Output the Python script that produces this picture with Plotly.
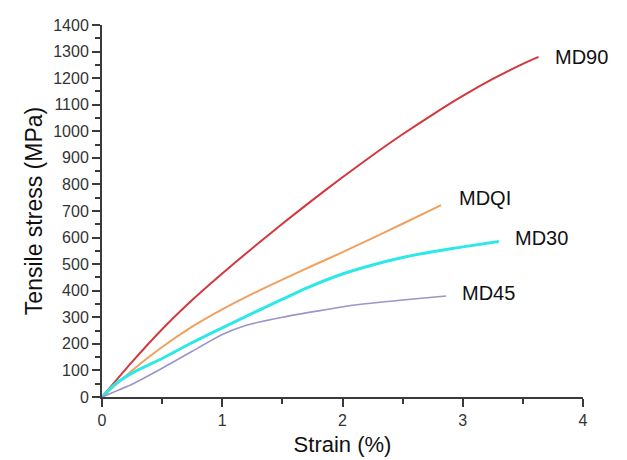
import plotly.graph_objects as go

# MD90
md90_x = [0, 0.25, 0.5, 0.75, 1.0, 1.25, 1.5, 1.75, 2.0, 2.25, 2.5, 2.75, 3.0, 3.25, 3.5, 3.63]
md90_y = [0, 132, 255, 365, 465, 560, 652, 741, 827, 910, 989, 1063, 1133, 1197, 1254, 1280]
# MDQI
mdqi_x = [0, 0.25, 0.5, 0.75, 1.0, 1.25, 1.5, 1.75, 2.0, 2.25, 2.5, 2.82]
mdqi_y = [0, 100, 188, 265, 330, 388, 442, 494, 545, 598, 652, 722]
# MD30
md30_x = [0, 0.1, 0.25, 0.5, 0.75, 1.0, 1.25, 1.5, 1.7, 2.0, 2.25, 2.5, 2.75, 3.0, 3.3]
md30_y = [0, 45, 90, 145, 205, 260, 315, 368, 410, 463, 497, 525, 547, 565, 585]
# MD45
md45_x = [0, 0.25, 0.5, 0.75, 1.0, 1.2, 1.5, 1.8, 2.1, 2.5, 2.86]
md45_y = [0, 48, 108, 172, 235, 270, 300, 324, 346, 365, 380]

x_ticks = [0, 1, 2, 3, 4]
y_ticks = list(range(0, 1401, 100))

series = [
    ("MD90", md90_x, md90_y, "#d2383e", 2),
    ("MDQI", mdqi_x, mdqi_y, "#f0a060", 2),
    ("MD30", md30_x, md30_y, "#2ee8e8", 3),
    ("MD45", md45_x, md45_y, "#9a96c8", 1.6),
]

FONT = "Liberation Sans, Arial"

fig = go.Figure()
for name, xs, ys, col, w in series:
    fig.add_trace(go.Scatter(x=xs, y=ys, mode="lines", name=name,
                             line=dict(color=col, width=w, shape="spline", smoothing=0.5),
                             showlegend=False))

labels = [("MD90", 3.63, 1280, 0.12, 0), ("MDQI", 2.82, 722, 0.13, 28),
          ("MD30", 3.3, 585, 0.12, 15), ("MD45", 2.86, 380, 0.12, 10)]
for txt, lx, ly, dx, dy in labels:
    fig.add_annotation(x=lx + dx, y=ly + dy, text=txt, showarrow=False,
                       xanchor="left", yanchor="middle",
                       font=dict(family=FONT, size=20, color="#111111"))

axis_common = dict(showgrid=False, zeroline=False, showline=True, linecolor="#3a3a3a",
                   linewidth=2, ticks="outside", tickcolor="#3a3a3a", tickwidth=2,
                   ticklen=8, tickfont=dict(family=FONT, size=16, color="#333333"),
                   mirror=False)

fig.update_layout(
    width=627, height=460,
    margin=dict(l=94, r=52, t=9, b=71),
    paper_bgcolor="white", plot_bgcolor="white",
    xaxis=dict(range=[0, 4], tickvals=x_ticks,
               minor=dict(dtick=0.5, ticks="outside", ticklen=5, tickcolor="#3a3a3a", tickwidth=2),
               title=dict(text="Strain (%)", font=dict(family=FONT, size=22, color="#111111"), standoff=8),
               **axis_common),
    yaxis=dict(range=[0, 1400], tickvals=y_ticks,
               minor=dict(dtick=50, ticks="outside", ticklen=5, tickcolor="#3a3a3a", tickwidth=2),
               title=dict(text="Tensile stress (MPa)", font=dict(family=FONT, size=23, color="#111111"), standoff=4),
               **axis_common),
)

fig.write_html("out.html")
